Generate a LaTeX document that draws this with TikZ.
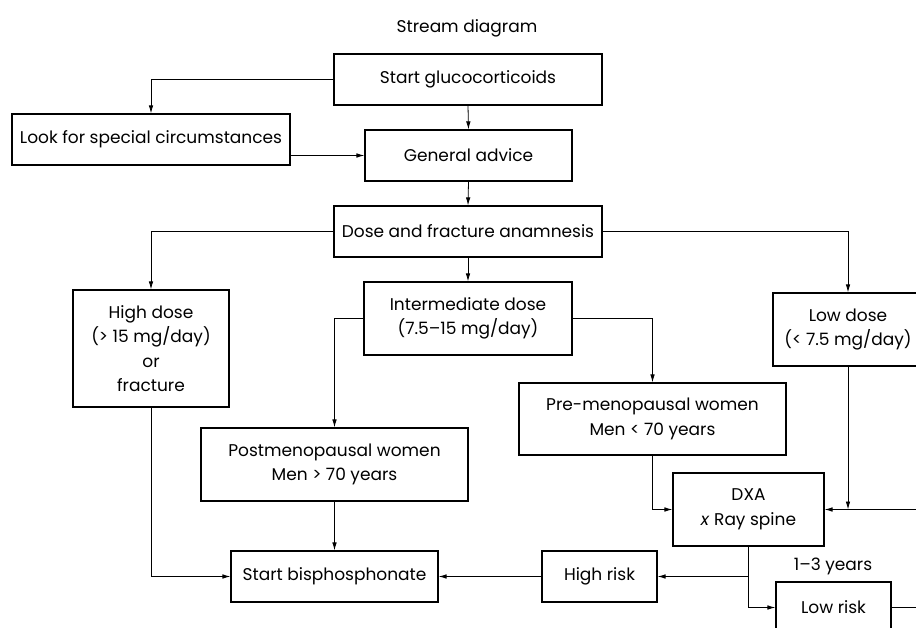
\documentclass[tikz,border=0pt]{standalone}
\usepackage{fontspec}
\setmainfont{Poppins}
\usepackage{tikz}
\usetikzlibrary{positioning,calc,arrows.meta}

\begin{document}
\begin{tikzpicture}[x=1pt, y=-1pt,
    box/.style={draw, line width=1.1pt, inner sep=0pt, align=center,
        font=\fontsize{17}{24.5}\selectfont},
    link/.style={line width=0.8pt, -{Latex[length=8pt, width=4.5pt]}},
    plain/.style={line width=0.8pt}]
    \clip (0,0) rectangle (916,628);

    % Top part
    \node[font=\fontsize{17}{24.5}\selectfont] (title) at (467,28) {Stream diagram};
    \node[box, minimum width=268, minimum height=51] (start) at (468,79.5) {Start glucocorticoids};
    \node[box, minimum width=278, minimum height=51] (look) at (151,139.5) {Look for special circumstances};
    \node[box, minimum width=207, minimum height=51] (advice) at (468.5,155.5) {General advice};
    \node[box, minimum width=268, minimum height=51] (anam) at (468,231.5) {Dose and fracture anamnesis};

    \draw[link] (start.west) -| (look.north);
    \draw[link] (start.south) -- (advice.north);
    \draw[link] (look.east |- advice.west) -- (advice.west);
    \draw[link] (advice.south) -- (anam.north);

    % Dose groups
    \node[box, minimum width=156, minimum height=117] (high) at (151,348.5) {High dose\\(> 15 mg/day)\\or\\fracture};
    \node[box, minimum width=208, minimum height=73] (inter) at (468,318.5) {Intermediate dose\\(7.5--15 mg/day)};
    \node[box, minimum width=150, minimum height=73] (low) at (848,329.5) {Low dose\\(< 7.5 mg/day)};

    \draw[link] (anam.west) -| (high.north);
    \draw[link] (anam.east) -| (low.north);
    \draw[link] (anam.south) -- (inter.north);

    % Patients
    \node[box, minimum width=267, minimum height=73] (postm) at (334.5,464.5) {Postmenopausal women\\Men > 70 years};
    \node[box, minimum width=267, minimum height=72] (prem) at (652.5,419) {Pre-menopausal women\\Men < 70 years};
    \node[box, minimum width=151, minimum height=73] (dxa) at (748.5,509.5) {DXA\\\textit{x} Ray spine};

    \draw[link] (inter.west) -| (postm.north);
    \draw[link] (inter.east) -| (prem.north);
    \draw[link] (prem.south) |- (dxa.west);
    \draw[link] (low.south) -- (low.south |- dxa.east);
    \coordinate (inR) at (930,509.5);
    \draw[link] (inR) -- (dxa.east);

    % Risk and treatment
    \node[box, minimum width=207, minimum height=51] (bisph) at (334.5,576.5) {Start bisphosphonate};
    \node[box, minimum width=115, minimum height=51] (hrisk) at (599.5,576.5) {High risk};
    \node[box, minimum width=115, minimum height=51] (lrisk) at (833.5,607.5) {Low risk};
    \node[font=\fontsize{17}{24.5}\selectfont] (years) at (833,566) {1--3 years};

    \draw[link] (postm.south) -- (bisph.north);
    \draw[link] (high.south) |- (bisph.west);
    \draw[link] (hrisk.west) -- (bisph.east);
    \draw[link] (dxa.south) |- (hrisk.east);
    \draw[link] (dxa.south) |- (lrisk.west);
    \coordinate (outR) at (930,607.5);
    \draw[plain] (lrisk.east) -- (outR);
\end{tikzpicture}
\end{document}
